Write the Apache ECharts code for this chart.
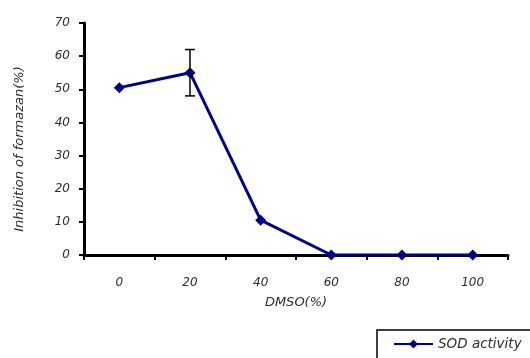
<!DOCTYPE html>
<html>
<head>
<meta charset="utf-8">
<script src="https://cdn.jsdelivr.net/npm/echarts@6/dist/echarts.min.js"></script>
<style>
  html, body { margin: 0; padding: 0; background: #fff; overflow: hidden; }
  #chart { width: 530px; height: 358px; }
</style>
</head>
<body>
<div id="chart"></div>
<script>
// data
var dmsoLevels = ['0', '20', '40', '60', '80', '100'];
var sodActivity = [50.5, 55, 10.5, 0, 0, 0];
// error bars: [category index, low, high]
var errorBars = [[1, 48, 62]];
var yTicks = [0, 10, 20, 30, 40, 50, 60, 70];

var labelFont = {
    color: '#2e2e2a',
    fontStyle: 'italic',
    fontFamily: 'DejaVu Sans',
    fontSize: 12
};

var myChart = echarts.init(document.getElementById('chart'));
var option = {
    animation: false,
    grid: { left: 84, right: 22, top: 23, bottom: 103 },
    legend: {
        data: ['SOD activity'],
        left: 377,
        top: 330,
        borderColor: '#000',
        borderWidth: 1.5,
        borderRadius: 0,
        padding: [7, 30, 14, 16],
        itemWidth: 39,
        itemHeight: 11,
        textStyle: Object.assign({}, labelFont, { fontSize: 13.5 })
    },
    xAxis: {
        type: 'category',
        data: dmsoLevels,
        boundaryGap: true,
        name: 'DMSO(%)',
        nameLocation: 'middle',
        nameGap: 41,
        nameTextStyle: Object.assign({}, labelFont, { fontSize: 13 }),
        axisLine: { lineStyle: { color: '#000', width: 3 } },
        axisTick: { show: true, length: 5, lineStyle: { color: '#000', width: 2 } },
        axisLabel: Object.assign({ margin: 22 }, labelFont),
        splitLine: { show: false }
    },
    yAxis: {
        type: 'value',
        min: yTicks[0],
        max: yTicks[yTicks.length - 1],
        interval: 10,
        name: 'Inhibition of formazan(%)',
        nameLocation: 'middle',
        nameGap: 58,
        nameTextStyle: Object.assign({}, labelFont, { fontSize: 13, padding: [0, 20, 0, 0] }),
        axisLine: { show: true, lineStyle: { color: '#000', width: 3 } },
        axisTick: { show: true, length: 5, lineStyle: { color: '#000', width: 2 } },
        axisLabel: Object.assign({ margin: 14 }, labelFont),
        splitLine: { show: false }
    },
    series: [
        {
            name: 'SOD activity',
            type: 'line',
            data: sodActivity,
            symbol: 'diamond',
            symbolSize: 11,
            lineStyle: { color: '#00008b', width: 3 },
            itemStyle: { color: '#00008b' },
            z: 3
        },
        {
            type: 'custom',
            data: errorBars,
            z: 4,
            renderItem: function (params, api) {
                var x = api.value(0);
                var lo = api.coord([x, api.value(1)]);
                var hi = api.coord([x, api.value(2)]);
                var w = 5;
                var style = { stroke: '#000', lineWidth: 1.5 };
                return {
                    type: 'group',
                    children: [
                        { type: 'line', shape: { x1: lo[0], y1: lo[1], x2: hi[0], y2: hi[1] }, style: style },
                        { type: 'line', shape: { x1: hi[0] - w, y1: hi[1], x2: hi[0] + w, y2: hi[1] }, style: style },
                        { type: 'line', shape: { x1: lo[0] - w, y1: lo[1], x2: lo[0] + w, y2: lo[1] }, style: style }
                    ]
                };
            }
        }
    ]
};
myChart.setOption(option);
</script>
</body>
</html>
